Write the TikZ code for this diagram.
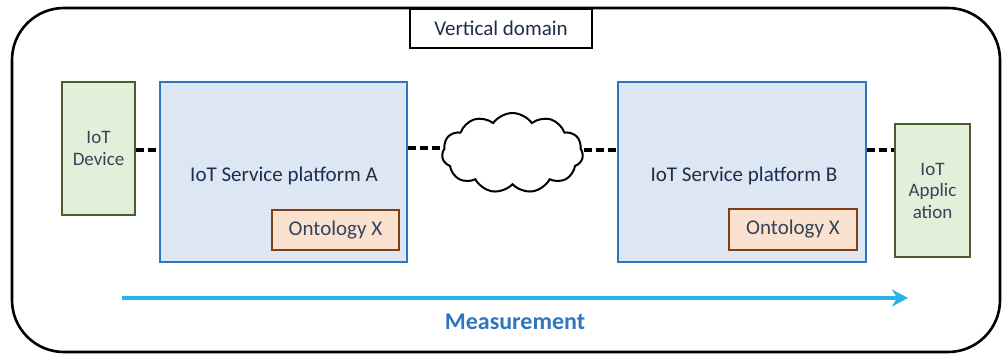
\documentclass[tikz,border=0pt]{standalone}
\usepackage{fontspec}
\setmainfont{Carlito}
\usetikzlibrary{shapes.symbols,arrows.meta}
\definecolor{grfill}{HTML}{E2EFD9}
\definecolor{grdraw}{HTML}{4A5E2A}
\definecolor{blfill}{HTML}{DCE7F3}
\definecolor{bldraw}{HTML}{2E75C0}
\definecolor{orfill}{HTML}{FBE1D0}
\definecolor{ordraw}{HTML}{7F3F14}
\definecolor{txtdark}{HTML}{1F2D4D}
\definecolor{txtgray}{HTML}{34445A}
\definecolor{meascol}{HTML}{27B4E6}
\definecolor{meastxt}{HTML}{2F76BE}
\tikzset{
  devbox/.style={draw=grdraw, fill=grfill, line width=2.6pt, inner sep=0pt, align=center, text=txtgray, font=\fontsize{19}{21.5}\selectfont},
  platbox/.style={draw=bldraw, fill=blfill, line width=2.6pt, inner sep=0pt},
  ontobox/.style={draw=ordraw, fill=orfill, line width=2.8pt, inner sep=0pt, text=txtgray, font=\fontsize{21}{24}\selectfont},
  link/.style={line width=3.4pt, dash pattern=on 8pt off 4pt},
}
\begin{document}
\begin{tikzpicture}[x=1pt,y=-1pt]
\useasboundingbox (0,0) rectangle (1003,356);
% outer domain
\draw[line width=2.6pt, rounded corners=52pt] (12,8) rectangle (1000,352);
\node[draw, line width=2.6pt, fill=white, minimum width=182pt, minimum height=39pt, inner sep=0pt, font=\fontsize{21}{24}\selectfont, text=txtdark] (vd) at (501,28.5) {Vertical domain};
% device
\node[devbox, minimum width=73pt, minimum height=133pt] (dev) at (98.5,148.5) {IoT\\Device};
% platform A
\node[platbox, minimum width=247pt, minimum height=180pt] (pa) at (283.5,172) {};
\node[text=txtdark, font=\fontsize{21}{24}\selectfont] (pat) at (284,176) {IoT Service platform A};
\node[ontobox, minimum width=127pt, minimum height=40pt] (oa) at (335.5,230) {Ontology X};
% cloud
\node[cloud, draw, line width=2pt, cloud puffs=11, cloud puff arc=110, aspect=1.76, minimum width=141pt, minimum height=80pt, inner sep=0pt] (cl) at (512.5,153) {};
% platform B
\node[platbox, minimum width=248pt, minimum height=180pt] (pb) at (742,172) {};
\node[text=txtdark, font=\fontsize{21}{24}\selectfont] (pbt) at (744,176) {IoT Service platform B};
\node[ontobox, minimum width=128pt, minimum height=41pt] (ob) at (793,229.5) {Ontology X};
% application
\node[devbox, minimum width=75pt, minimum height=133pt] (app) at (932.5,190.5) {IoT\\Applic\\ation};
% links
\draw[link] (dev.east |- 0,150) -- (pa.west |- 0,150);
\draw[link] (pa.east |- 0,148) -- (cl.west |- 0,148);
\draw[link] (cl.east |- 0,150) -- (pb.west |- 0,150);
\draw[link] (pb.east |- 0,150) -- (app.west |- 0,150);
% measurement
\coordinate (ms) at (122,298);
\coordinate (me) at (908,298);
\draw[meascol, line width=3.2pt, -{Stealth[length=16pt,width=17pt,inset=5pt]}] (ms) -- (me);
\node[text=meastxt, font=\fontsize{24}{28}\selectfont\bfseries] (mt) at (515,322) {Measurement};
\end{tikzpicture}
\end{document}
